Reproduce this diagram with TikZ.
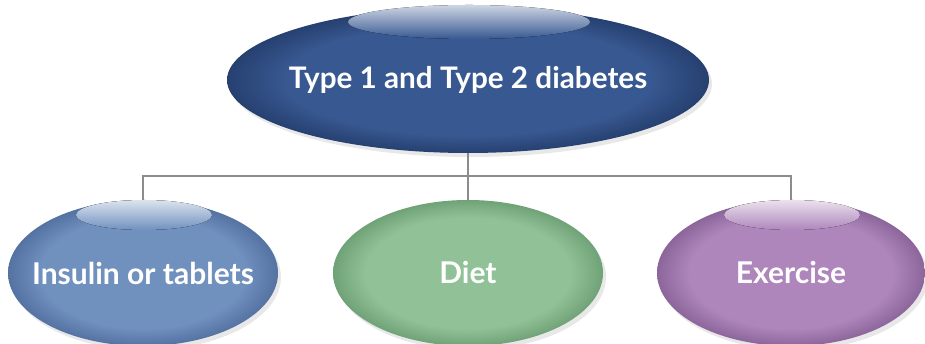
\documentclass[tikz,border=0pt]{standalone}
\usepackage{fontspec}
\setmainfont{Lato}
\usetikzlibrary{shapes.geometric,shadows}

\definecolor{topbase}{RGB}{56,88,145}
\definecolor{toprim}{RGB}{38,64,112}
\definecolor{insbase}{RGB}{112,144,190}
\definecolor{insrim}{RGB}{84,114,162}
\definecolor{dietbase}{RGB}{145,193,151}
\definecolor{dietrim}{RGB}{112,162,120}
\definecolor{exbase}{RGB}{174,134,187}
\definecolor{exrim}{RGB}{140,102,155}
\definecolor{linkgray}{RGB}{140,140,140}

\pgfdeclareradialshading[gbase,grim]{bubbleshade}{\pgfpointorigin}{color(0bp)=(gbase); color(19bp)=(gbase); color(25bp)=(grim); color(50bp)=(grim)}

\begin{document}
\begin{tikzpicture}[x=1pt, y=1pt,
    bubble/.style 2 args={ellipse, inner sep=0pt,
        /utils/exec={\colorlet{gbase}{#1}\colorlet{grim}{#2}},
        shading=bubbleshade,
        drop shadow={opacity=0.18, shadow xshift=3pt, shadow yshift=-4pt}},
    label/.style={text=white, font=\bfseries\fontsize{#1}{#1}\selectfont},
    gloss/.style={top color=white!75!#1, bottom color=#1},
    link/.style={draw=linkgray, line width=2pt}]
    \useasboundingbox (0,0) rectangle (925,344);

    % main node
    \node [bubble={topbase}{toprim}, minimum width=482, minimum height=146] (top) at (468,264) {};
    \fill [gloss=topbase] (469,322) ellipse [x radius=121, y radius=17];
    \node [label=29.7] (toptext) at (top.center) {Type 1 and Type 2 diabetes};

    % treatments
    \node [bubble={insbase}{insrim}, minimum width=270, minimum height=146] (insulin) at (143,71) {};
    \fill [gloss=insbase] (144,129) ellipse [x radius=68, y radius=15];
    \node [label=30] (instext) at (insulin.center) {Insulin or tablets};

    \node [bubble={dietbase}{dietrim}, minimum width=270, minimum height=146] (diet) at (468,71) {};
    \node [label=30] (diettext) at (diet.center) {Diet};

    \node [bubble={exbase}{exrim}, minimum width=268, minimum height=146] (exercise) at (791,71) {};
    \fill [gloss=exbase] (792,129) ellipse [x radius=68, y radius=15];
    \node [label=30] (extext) at (exercise.center) {Exercise};

    % connectors
    \draw [link] (top.south) -- ++(0,-23) coordinate (hub);
    \draw [link] (insulin.north) |- (hub) -| (exercise.north);
    \draw [link] (hub) -- (diet.north);
\end{tikzpicture}
\end{document}
